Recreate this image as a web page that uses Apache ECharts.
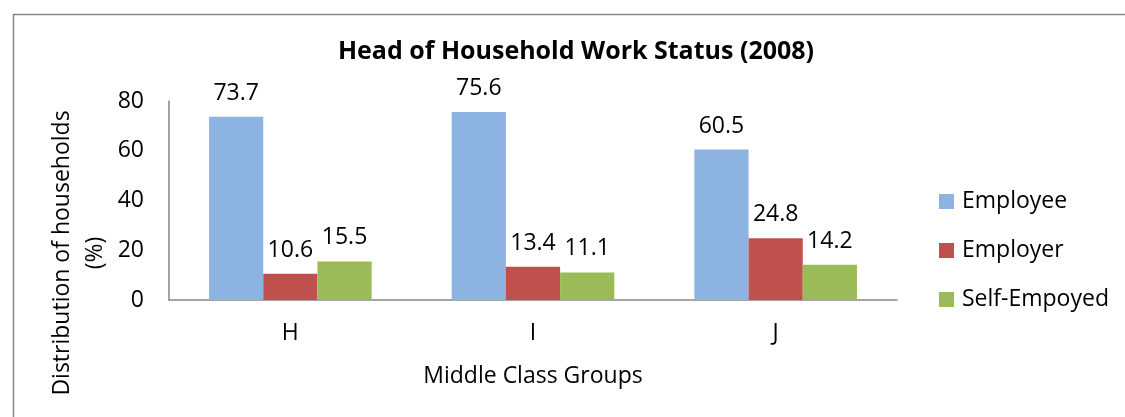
<!DOCTYPE html>
<html>
<head>
<meta charset="utf-8">
<script src="https://cdn.jsdelivr.net/npm/echarts@6/dist/echarts.min.js"></script>
<style>
  html, body { margin: 0; padding: 0; background: #fff; }
  #chart { width: 1125px; height: 417px; }
</style>
</head>
<body>
<div id="chart"></div>
<script>
  // chart data
  var groups = ['H', 'I', 'J'];
  var employee = [73.7, 75.6, 60.5];
  var employer = [10.6, 13.4, 24.8];
  var selfEmployed = [15.5, 11.1, 14.2];
  var seriesNames = ['Employee', 'Employer', 'Self-Empoyed'];
  var yTicks = [0, 20, 40, 60, 80];

  var fontFam = '"Open Sans", sans-serif';
  var colors = ['#8db3e2', '#c0504d', '#9bbb59'];

  function barSeries(name, data, color) {
    return {
      name: name,
      type: 'bar',
      data: data,
      barGap: '0%',
      barCategoryGap: '33%',
      itemStyle: { color: color },
      label: {
        show: true,
        position: 'top',
        distance: 12,
        color: '#000',
        fontFamily: fontFam,
        fontSize: 23,
        formatter: function (p) { return p.value.toFixed(1); }
      }
    };
  }

  var myChart = echarts.init(document.getElementById('chart'));
  var option = {
    animation: false,
    color: colors,
    title: {
      text: 'Head of Household Work Status (2008)',
      left: 571,
      textAlign: 'center',
      top: 34,
      textStyle: { fontFamily: fontFam, fontSize: 25, fontWeight: 'bold', color: '#000' }
    },
    legend: {
      orient: 'vertical',
      left: 934,
      top: 185,
      itemWidth: 15,
      itemHeight: 15,
      itemGap: 26,
      icon: 'rect',
      textStyle: { fontFamily: fontFam, fontSize: 23, color: '#000', padding: [0, 0, 0, 3] },
      data: seriesNames
    },
    grid: {
      left: 169,
      right: 228,
      top: 101,
      bottom: 117
    },
    xAxis: {
      type: 'category',
      data: groups,
      axisTick: { show: false },
      axisLine: { lineStyle: { color: '#868686', width: 1.5 } },
      axisLabel: { margin: 22, color: '#000', fontFamily: fontFam, fontSize: 23 },
      name: 'Middle Class Groups',
      nameLocation: 'middle',
      nameGap: 65,
      nameTextStyle: { color: '#000', fontFamily: fontFam, fontSize: 23 }
    },
    yAxis: {
      type: 'value',
      min: yTicks[0],
      max: yTicks[yTicks.length - 1],
      interval: 20,
      splitLine: { show: false },
      axisTick: { show: false },
      axisLine: { show: true, lineStyle: { color: '#868686', width: 1.5 } },
      axisLabel: { margin: 25, color: '#000', fontFamily: fontFam, fontSize: 23 }
    },
    graphic: [
      {
        type: 'rect',
        left: 11,
        top: 12,
        shape: { width: 1130, height: 420 },
        style: { fill: 'none', stroke: '#868686', lineWidth: 1.5 },
        z: -1
      },
      {
        type: 'text',
        x: 46,
        y: 253,
        rotation: Math.PI / 2,
        style: {
          text: 'Distribution of households\n(%)',
          fontFamily: fontFam,
          fontSize: 23,
          lineHeight: 33,
          fill: '#000',
          align: 'center',
          verticalAlign: 'top'
        }
      }
    ],
    series: [
      barSeries(seriesNames[0], employee, colors[0]),
      barSeries(seriesNames[1], employer, colors[1]),
      barSeries(seriesNames[2], selfEmployed, colors[2])
    ]
  };
  myChart.setOption(option, true);
</script>
</body>
</html>
